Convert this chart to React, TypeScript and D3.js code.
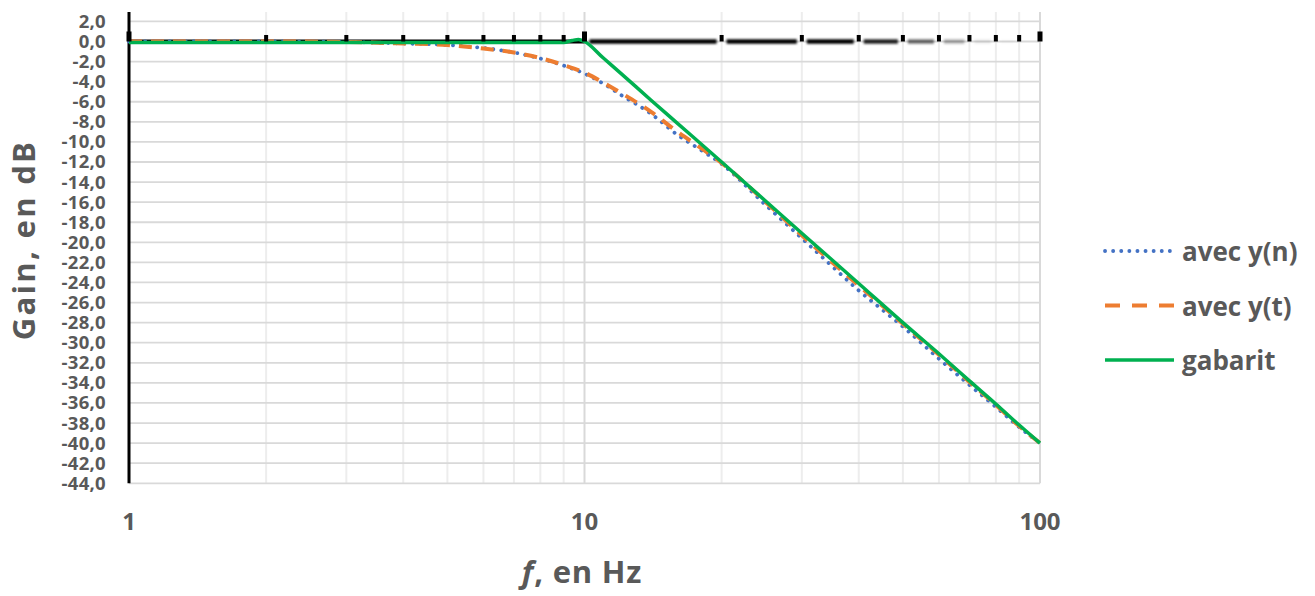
import React from "react";
import * as d3 from "d3";

// frequencies (Hz) used by the two measured series
const freqs = [1, 2, 3, 4, 5, 6, 7, 8, 9, 10, 11, 12, 14, 16, 18, 20, 25, 30, 35, 40, 45, 50, 60, 70, 80, 90, 100];
const gainYn = [0, 0, -0.05, -0.2, -0.35, -0.65, -1.1, -1.7, -2.4, -3.2, -4.2, -5.3, -7.2, -9.3, -10.8, -12.2, -16.3, -19.6, -22.4, -24.8, -26.7, -28.4, -31.6, -34.2, -36.4, -38.4, -40.0];
const gainYt = [0, 0, -0.05, -0.2, -0.35, -0.7, -1.1, -1.65, -2.35, -3.1, -4.1, -5.1, -7.0, -9.0, -10.6, -12.1, -16.0, -19.3, -22.0, -24.3, -26.3, -28.1, -31.2, -33.9, -36.2, -38.3, -40.0];

// template ("gabarit")
const gabaritF = [1, 2, 3, 4, 5, 6, 7, 8, 9, 9.4, 9.7, 10, 11, 12, 14, 16, 20, 30, 40, 50, 60, 70, 80, 90, 100];
const gabaritG = [-0.1, -0.1, -0.1, -0.1, -0.1, -0.1, -0.1, -0.1, -0.1, 0.1, 0.2, 0, -1.65, -3.15, -5.85, -8.15, -12.0, -19.1, -24.1, -28.0, -31.1, -33.8, -36.1, -38.2, -40.0];

const yTicks = [2, 0, -2, -4, -6, -8, -10, -12, -14, -16, -18, -20, -22, -24, -26, -28, -30, -32, -34, -36, -38, -40, -42, -44];
const xGrid = [1, 2, 3, 4, 5, 6, 7, 8, 9, 10, 20, 30, 40, 50, 60, 70, 80, 90, 100];
const xLabels = [1, 10, 100];
// how dark the horizontal 0 dB axis line looks on each segment after 10 Hz
const axisFade = [1, 1, 1, 0.85, 0.55, 0.3, 0.08, 0.02, 0];

const series = [
  { name: "avec y(n)", f: freqs, g: gainYn, color: "#4472C4", dash: "0.1 8", width: 3.8, cap: "round" },
  { name: "avec y(t)", f: freqs, g: gainYt, color: "#ED7D31", dash: "13 9", width: 4, cap: "butt" },
  { name: "gabarit", f: gabaritF, g: gabaritG, color: "#00B050", dash: "", width: 3.5, cap: "butt" },
];

const W = 1315;
const H = 596;
const font = "'Open Sans', 'Noto Sans', sans-serif";
const textColor = "#595959";

export default function App() {
  const x = d3.scaleLog().domain([1, 100]).range([129, 1040]);
  const y = d3.scaleLinear().domain([2, -44]).range([21.4, 483.3]);
  const top = 12;
  const bottom = y(-44);

  const line = d3
    .line<[number, number]>()
    .x((d) => x(d[0]))
    .y((d) => y(d[1]))
    .curve(d3.curveMonotoneX);

  const decade2 = xGrid.filter((f) => f >= 10);

  return (
    <svg
      width={W}
      height={H}
      style={{ position: "absolute", left: 0, top: 0, background: "#fff" }}
      fontFamily={font}
    >
      <defs>
        <filter id="soft" filterUnits="userSpaceOnUse" x={550} y={20} width={520} height={45}>
          <feGaussianBlur stdDeviation="1.2" />
        </filter>
      </defs>

      {/* vertical grid */}
      {xGrid.map((f) => (
        <line
          key={"vx" + f}
          x1={x(f)}
          x2={x(f)}
          y1={top}
          y2={bottom}
          stroke={f === 10 || f === 100 ? "#d9d9d9" : "#ededed"}
          strokeWidth={2}
        />
      ))}
      {/* horizontal grid */}
      {yTicks.map((v) => (
        <line
          key={"hy" + v}
          x1={x(1)}
          x2={x(100)}
          y1={y(v)}
          y2={y(v)}
          stroke="#d9d9d9"
          strokeWidth={1.8}
        />
      ))}

      {/* horizontal axis line at 0 dB */}
      <line x1={x(1)} x2={x(10)} y1={y(0)} y2={y(0)} stroke="#000" strokeWidth={4} />
      <g filter="url(#soft)">
        {decade2.slice(0, -1).map((f, i) => (
          <line
            key={"ax" + f}
            x1={x(f) + 5}
            x2={x(decade2[i + 1]) - 5}
            y1={y(0)}
            y2={y(0)}
            stroke="#000"
            strokeOpacity={axisFade[i]}
            strokeWidth={4.5}
          />
        ))}
      </g>

      {/* left axis */}
      <line x1={x(1)} x2={x(1)} y1={top} y2={bottom} stroke="#000" strokeWidth={3} />

      {/* series */}
      {series.map((s) => (
        <path
          key={s.name}
          d={line(s.f.map((f, i) => [f, s.g[i]] as [number, number])) || ""}
          fill="none"
          stroke={s.color}
          strokeWidth={s.width}
          strokeDasharray={s.dash || undefined}
          strokeLinecap={s.cap as any}
        />
      ))}

      {/* tick marks of the 0 dB axis */}
      {xGrid.map((f) => {
        const major = xLabels.includes(f);
        const w = major ? 5 : 4;
        const h = major ? 10 : 6.5;
        return (
          <rect
            key={"tk" + f}
            x={x(f) - w / 2}
            y={y(0) - h}
            width={w}
            height={h}
            fill="#000"
          />
        );
      })}

      {/* y tick labels */}
      {yTicks.map((v) => (
        <text
          key={"yl" + v}
          x={106}
          y={y(v) + 6.5}
          textAnchor="end"
          fontSize={18.5}
          fontWeight={700}
          fill={textColor}
          letterSpacing={0.3}
        >
          {v.toFixed(1).replace(".", ",")}
        </text>
      ))}

      {/* x tick labels */}
      {xLabels.map((f) => (
        <text
          key={"xl" + f}
          x={x(f)}
          y={530}
          textAnchor="middle"
          fontSize={24}
          fontWeight={700}
          fill={textColor}
        >
          {f}
        </text>
      ))}

      {/* axis titles */}
      <text
        x={582}
        y={583}
        textAnchor="middle"
        fontSize={31}
        fontWeight={700}
        fill={textColor}
        letterSpacing={0.8}
      >
        <tspan fontStyle="italic">f</tspan>, en Hz
      </text>
      <text
        transform="translate(35,240) rotate(-90)"
        textAnchor="middle"
        fontSize={31}
        fontWeight={700}
        fill={textColor}
        letterSpacing={2.3}
      >
        Gain, en dB
      </text>

      {/* legend */}
      {series.map((s, i) => {
        const ly = 251 + i * 54.5;
        return (
          <g key={"lg" + s.name}>
            <line
              x1={1105}
              x2={1174}
              y1={ly}
              y2={ly}
              stroke={s.color}
              strokeWidth={s.width}
              strokeDasharray={s.name === "avec y(t)" ? "15 12" : s.dash || undefined}
              strokeLinecap={s.cap as any}
            />
            <text
              x={1182}
              y={ly + 10}
              fontSize={26}
              fontWeight={700}
              fill={textColor}
            >
              {s.name}
            </text>
          </g>
        );
      })}
    </svg>
  );
}
